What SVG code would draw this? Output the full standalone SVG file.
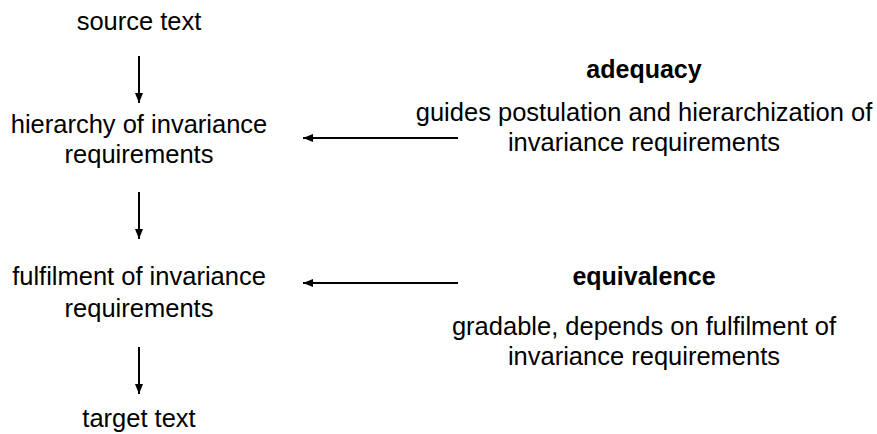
<svg xmlns="http://www.w3.org/2000/svg" width="877" height="434" viewBox="0 0 877 434">
  <style>
    text { font-family: "Liberation Sans", Arial, sans-serif; font-size: 25.5px; fill: #000; text-anchor: middle; }
    .head { font-weight: bold; font-size: 25px; }
    .conn { stroke: #000; stroke-width: 2; fill: none; marker-end: url(#arrow); }
  </style>
  <defs>
    <marker id="arrow" viewBox="0 0 10 8" refX="10" refY="4" markerWidth="10" markerHeight="8" markerUnits="userSpaceOnUse" orient="auto">
      <path d="M0,0 L10,4 L0,8 Z" fill="#000"/>
    </marker>
  </defs>
  <rect width="877" height="434" fill="#fff"/>

  <g id="source">
    <text x="139" y="30">source text</text>
  </g>
  <g id="hierarchy">
    <text x="139" y="133">hierarchy of invariance</text>
    <text x="139" y="163">requirements</text>
  </g>
  <g id="fulfilment">
    <text x="139" y="285">fulfilment of invariance</text>
    <text x="139" y="317">requirements</text>
  </g>
  <g id="target">
    <text x="139" y="427">target text</text>
  </g>
  <g id="adequacy">
    <text class="head" x="644" y="78">adequacy</text>
    <text x="644" y="121">guides postulation and hierarchization of</text>
    <text x="644" y="151">invariance requirements</text>
  </g>
  <g id="equivalence">
    <text class="head" x="644" y="285">equivalence</text>
    <text x="644" y="335">gradable, depends on fulfilment of</text>
    <text x="644" y="365">invariance requirements</text>
  </g>

  <g id="connectors">
    <line class="conn" x1="139" y1="56" x2="139" y2="103"/>
    <line class="conn" x1="139" y1="192" x2="139" y2="239"/>
    <line class="conn" x1="139" y1="347" x2="139" y2="394"/>
    <line class="conn" x1="458" y1="138" x2="303" y2="138"/>
    <line class="conn" x1="458" y1="283" x2="303" y2="283"/>
  </g>
</svg>
